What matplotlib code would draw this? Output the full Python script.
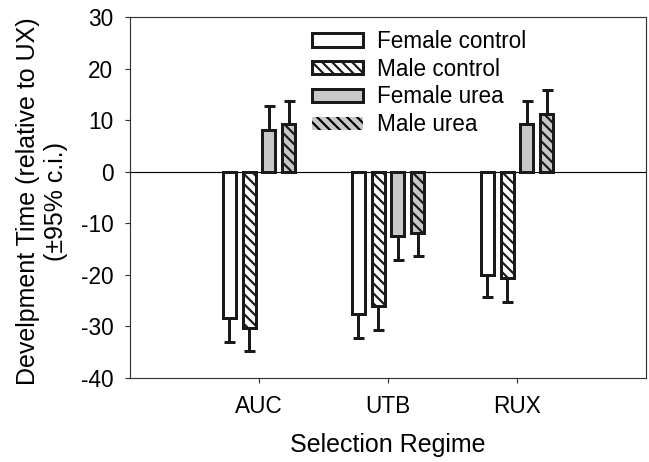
import numpy as np
import matplotlib
matplotlib.use('Agg')
import matplotlib.pyplot as plt
from matplotlib.patches import Patch

plt.rcParams['font.family'] = ['Liberation Sans', 'DejaVu Sans']
plt.rcParams['axes.unicode_minus'] = False
plt.rcParams['hatch.linewidth'] = 1.3
plt.rcParams['hatch.color'] = 'black'

# 数据
regimes = ['AUC', 'UTB', 'RUX']
series = ['Female control', 'Male control', 'Female urea', 'Male urea']
female_control = [-28.4, -27.5, -20.0]
male_control = [-30.3, -26.1, -20.6]
female_urea = [8.1, -12.4, 9.2]
male_urea = [9.2, -11.9, 11.2]
# 95% c.i. 半宽
female_control_ci = [4.6, 4.7, 4.3]
male_control_ci = [4.5, 4.5, 4.7]
female_urea_ci = [4.7, 4.7, 4.6]
male_urea_ci = [4.6, 4.4, 4.7]

values = [female_control, male_control, female_urea, male_urea]
cis = [female_control_ci, male_control_ci, female_urea_ci, male_urea_ci]
faces = ['white', 'white', '#c8c8c8', '#c8c8c8']
hatch = '\\\\\\\\'
hatches = ['', hatch, '', hatch]

fig = plt.figure(figsize=(649 / 120, 462 / 120), dpi=120)
ax = fig.add_axes([130 / 649, 1 - 378 / 462, 516 / 649, 361 / 462])

x = np.arange(1, len(regimes) + 1)
step = 0.153
width = 0.1

for i, (vals, ci) in enumerate(zip(values, cis)):
    pos = x + (i - 1.5) * step
    ax.bar(pos, vals, width, facecolor=faces[i], edgecolor='#1a1a1a',
           linewidth=1.8, hatch=hatches[i], zorder=3)
    vals = np.array(vals)
    lower = np.where(vals < 0, ci, 0)
    upper = np.where(vals > 0, ci, 0)
    ax.errorbar(pos, vals, yerr=[lower, upper], fmt='none', ecolor='#1a1a1a',
                elinewidth=1.8, capsize=3.3, capthick=1.8, zorder=2)

ax.axhline(0, color='black', linewidth=0.7, zorder=1)

ax.set_xlim(0, 4)
ax.set_ylim(-40, 30)
ax.set_xticks(x)
ax.set_xticklabels(regimes)
ax.set_yticks(range(-40, 31, 10))
ax.tick_params(axis='both', direction='out', length=3, width=0.7,
               labelsize=13.6, pad=7, color='#333333')
for s in ax.spines.values():
    s.set_linewidth(0.7)
    s.set_color('#333333')

ax.set_xlabel('Selection Regime', fontsize=15, labelpad=9)
ax.set_ylabel('Develpment Time (relative to UX)\n(±95% c.i.)', fontsize=15,
              linespacing=1.2)
ax.yaxis.set_label_coords(-0.12, 0.49)

handles = [Patch(facecolor='white', edgecolor='#1a1a1a', linewidth=1.8),
           Patch(facecolor='white', edgecolor='#1a1a1a', linewidth=1.8, hatch=hatch),
           Patch(facecolor='#c8c8c8', edgecolor='#1a1a1a', linewidth=1.8),
           Patch(facecolor='#c8c8c8', edgecolor='black', linewidth=0, hatch=hatch)]
ax.legend(handles, series, loc='upper left', bbox_to_anchor=(0.352, 0.964),
          frameon=False, fontsize=13.5, handlelength=2.3, handleheight=0.53,
          handletextpad=0.62, labelspacing=0.21, borderpad=0, borderaxespad=0)

plt.savefig('out.png', dpi=120)
